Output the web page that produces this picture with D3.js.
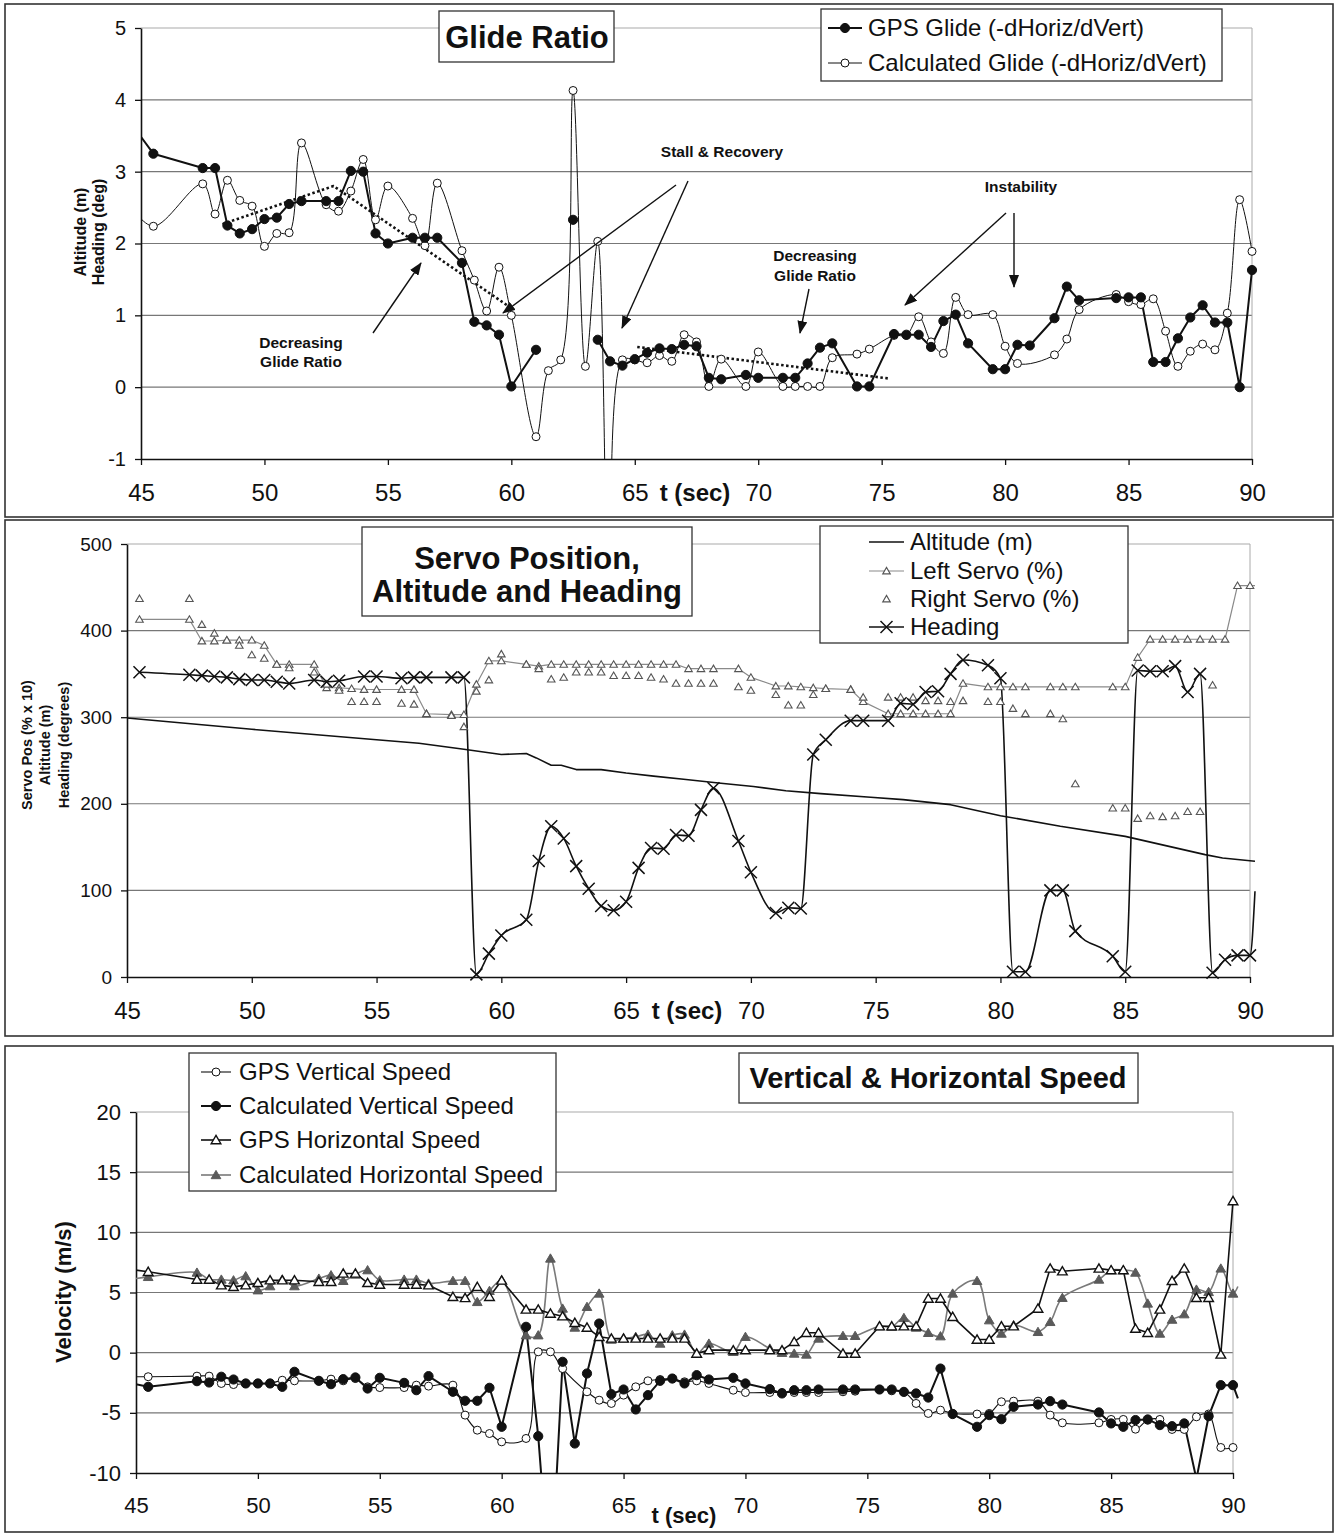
<!DOCTYPE html>
<html>
<head>
<meta charset="utf-8">
<script src="https://cdn.jsdelivr.net/npm/d3@7"></script>
<style>
  body { margin: 0; background: #fff; }
  svg { display: block; font-family: "Liberation Sans", Arial, sans-serif; }
</style>
</head>
<body>
<div id="chart"></div>
<script>
// ---- shared x ticks ----
const xTicks = [45, 50, 55, 60, 65, 70, 75, 80, 85, 90];

// ---- Glide ratio panel ----
const glideT = [44.5, 45.5, 47.5, 48, 48.5, 49, 49.5, 50, 50.5, 51, 51.5, 52.5, 53, 53.5, 54, 54.5, 55, 56, 56.5, 57,
  58, 58.5, 59, 59.5, 60, 61, 61.5, 62, 62.5, 63, 63.5, 64, 64.5, 65, 65.5, 66, 66.5, 67, 67.5, 68,
  68.5, 69.5, 70, 71, 71.5, 72, 72.5, 73, 74, 74.5, 75.5, 76, 76.5, 77, 77.5, 78, 78.5, 79.5, 80, 80.5,
  81, 82, 82.5, 83, 84.5, 85, 85.5, 86, 86.5, 87, 87.5, 88, 88.5, 89, 89.5, 90];
const gpsGlide = [3.72, 3.25, 3.05, 3.05, 2.25, 2.14, 2.2, 2.34, 2.36, 2.55, 2.59, 2.59, 2.59, 3.01, 3.0, 2.14, 2.0, 2.08, 2.08, 2.08,
  1.73, 0.91, 0.86, 0.73, 0.01, 0.52, null, null, 2.33, null, 0.66, 0.36, 0.30, 0.39, 0.48, 0.54, 0.53, 0.59, 0.57, 0.13,
  0.11, 0.17, 0.13, 0.13, 0.13, 0.33, 0.55, 0.61, 0.01, 0.01, 0.74, 0.73, 0.73, 0.56, 0.92, 1.01, 0.61, 0.25, 0.25, 0.59,
  0.58, 0.96, 1.40, 1.21, 1.24, 1.25, 1.25, 0.35, 0.35, 0.68, 0.97, 1.14, 0.90, 0.90, 0.0, 1.63];
const calcGlide = [2.55, 2.24, 2.83, 2.41, 2.88, 2.6, 2.52, 1.96, 2.14, 2.15, 3.4, 2.54, 2.45, 2.73, 3.17, 2.33, 2.8, 2.35, 1.97, 2.84,
  1.9, 1.49, 1.06, 1.67, 1.0, -0.69, 0.23, 0.38, 4.13, 0.29, 2.03, -4, 0.38, 0.38, 0.34, 0.44, 0.36, 0.73, 0.63, 0.01,
  0.39, 0.01, 0.49, 0.01, 0.01, 0.01, 0.01, 0.41, 0.46, 0.53, 0.72, 0.72, 0.98, 0.63, 0.47, 1.25, 1.01, 1.01, 0.57, 0.33,
  null, 0.45, 0.67, 1.08, 1.29, 1.19, 1.15, 1.23, 0.78, 0.29, 0.5, 0.6, 0.52, 1.03, 2.61, 1.89];
const glideTicks = [-1, 0, 1, 2, 3, 4, 5];
const trend1T = [48.3, 52.8, 60];
const trend1V = [2.27, 2.8, 1.1];
const trend2T = [65.1, 75.3];
const trend2V = [0.56, 0.12];

// ---- Servo / altitude / heading panel ----
const servoT = [45.5, 47.5, 48, 48.5, 49, 49.5, 50, 50.5, 51, 51.5, 52.5, 53, 53.5, 54, 54.5, 55, 56, 56.5, 57,
  58, 58.5, 59, 59.5, 60, 61, 61.5, 62, 62.5, 63, 63.5, 64, 64.5, 65, 65.5, 66, 66.5, 67, 67.5, 68,
  68.5, 69.5, 70, 71, 71.5, 72, 72.5, 73, 74, 74.5, 75.5, 76, 76.5, 77, 77.5, 78, 78.5, 79.5, 80, 80.5,
  81, 82, 82.5, 83, 84.5, 85, 85.5, 86, 86.5, 87, 87.5, 88, 88.5, 89, 89.5, 90, 90.2];
const heading = [352, 349, 348, 347, 346, 344, 343, 343, 341, 339, 343, 341, 342, null, 347, 347, 345, 346, 346,
  346, 346, 3, 27, 48, 66, 134, 174, 160, 128, 102, 82, 77, 87, 126, 149, 148, 164, 163, 193,
  218, 157, 121, 74, 80, 79, 257, 274, 296, 296, 296, 316, 315, 329, 330, 350, 366, 360, 345, 6,
  6, 100, 100, 53, 24, 6, 354, 353, 353, 359, 329, 350, 5, 20, 25, 25, 99];
const leftServo = [413, 413, 388, 388, 389, 389, 389, 383, 361, 361, 361, 334, 334, 333, 332, 332, 332, 332, 304,
  303, 303, 338, 365, 365, 361, 359, 361, 361, 361, 361, 361, 361, 361, 361, 361, 361, 361, 356, 356,
  356, 356, 346, 336, 336, 335, 334, 333, 332, 318, 304, 304, 304, 304, 304, 304, 339, 335, 335, 335,
  335, 335, 335, 335, 335, 335, 369, 390, 390, 390, 390, 390, 390, 390, 452, 452, 452];
const rightServo = [437, 437, 407, 397, 389, 383, 372, 368, 361, 357, 352, 338, 331, 318, 318, 318, 316, 315, 304,
  302, 289, 330, 343, 373, 361, 356, 344, 346, 352, 352, 352, 348, 348, 348, 346, 344, 339, 339, 339,
  339, 335, 331, 326, 314, 314, 326, 333, 332, 323, 323, 323, 323, 319, 319, 318, 319, 318, 318, 310,
  304, 304, 298, 223, 195, 195, 183, 186, 185, 186, 191, 191, 337, null, null, null, null];
const altT = [45, 50, 55, 56.7, 58.5, 60, 61, 61.4, 62, 62.4, 63, 64, 65, 66.1, 67.4, 68.7, 70.1, 71.4, 72.8, 74.8,
  76.1, 78, 80, 82.4, 85, 88.2, 88.9, 90.2];
const altitude = [299, 286, 274, 270, 263, 257, 258, 253, 244.5, 244.5, 239.5, 239.5, 235.5, 232, 228, 224, 220, 215, 211.7, 207.5,
  204.8, 199, 186.3, 174, 162.4, 141.3, 137.4, 133.6];
const servoTicks = [0, 100, 200, 300, 400, 500];

// ---- Vertical & horizontal speed panel ----
const speedT = glideT.concat([90.2]);
const gpsVert = [-2.0, -2.0, -1.95, -1.95, -2.56, -2.65, -2.56, -2.56, -2.56, -2.29, -2.34, -2.34, -2.2, -2.34, -2.15, -2.84, -2.9, -2.9, -2.7, -2.78,
  -2.7, -5.19, -6.44, -6.72, -7.41, -7.13, 0.07, 0.07, -1.32, null, -3.25, -3.95, -4.22, -3.53, -2.84, -2.34, -2.23, -2.15, -2.42, -2.34,
  -2.56, -3.12, -3.31, -3.31, -3.31, -3.31, -3.31, -3.31, -3.25, -3.2, -3.06, -3.17, -3.26, -4.22, -5.05, -4.78, -5.05, -5.1, -5.05, -4.08,
  -4.03, -4.03, -5.19, -5.83, -5.83, -5.55, -5.55, -6.36, -5.6, -5.55, -6.38, -6.38, -5.33, -5.1, -7.88, -7.88, null];
const calcVert = [-2.4, -2.84, -2.37, -2.48, -2.0, -2.23, -2.56, -2.56, -2.56, -2.84, -1.59, -2.34, -2.62, -2.2, -2.06, -2.98, -2.09, -2.51, -3.12, -1.95,
  -3.25, -4.0, -4.0, -2.92, -6.16, 2.15, -6.94, -20, -0.76, -7.55, -1.73, 2.42, -3.45, -3.06, -4.72, -3.53, -2.34, -2.15, -2.56, -1.87,
  -2.23, -2.09, -2.56, -3.03, -3.39, -3.12, -3.12, -3.06, -3.06, -3.06, -3.06, -3.06, -3.26, -3.39, -3.73, -1.32, -5.1, -6.16, -5.19, -5.53,
  -4.5, -4.31, -4.03, -4.31, -4.97, -5.88, -6.16, -5.6, -5.55, -6.02, -6.11, -5.88, -10.5, -5.28, -2.7, -2.7, -3.8];
const gpsHoriz = [7.0, 6.72, 6.08, 6.08, 5.61, 5.47, 5.61, 5.8, 6.02, 6.02, 6.02, 5.89, 5.89, 6.58, 6.58, 5.8, 5.66, 5.66, 5.66, 5.61,
  4.64, 4.55, 5.47, 4.64, 6.0, 3.59, 3.59, 3.25, 3.03, 2.48, 2.09, 1.32, 1.18, 1.18, 1.18, 1.18, 1.18, 1.18, 1.18, -0.07,
  0.21, 0.21, 0.21, 0.21, 0.21, 0.9, 1.65, 1.65, -0.07, -0.07, 2.2, 2.2, 2.2, 2.2, 4.5, 4.5, 2.98, 1.09, 1.09, 2.2,
  2.2, 3.67, 7.0, 6.77, 7.0, 6.86, 6.86, 2.0, 1.65, 3.59, 5.97, 7.0, 4.56, 4.56, -0.15, 12.6, null];
const calcHoriz = [6.0, 6.3, 6.66, 6.08, 6.08, 6.02, 6.36, 5.19, 5.53, 6.08, 5.53, 6.16, 6.44, 5.97, 6.5, 6.86, 6.02, 6.08, 6.08, 5.75,
  5.97, 5.97, 4.22, 5.14, 6.02, 1.45, 1.45, 7.83, 3.67, 2.09, 3.81, 4.92, 1.09, 1.18, 1.32, 1.51, 0.76, 1.45, 1.51, -0.07,
  0.76, 0.07, 1.32, 0.35, -0.01, -0.07, -0.15, 1.18, 1.4, 1.4, 2.2, 2.15, 2.89, 2.09, 1.65, 1.37, 4.92, 5.97, 2.7, 1.59,
  2.29, 1.73, 2.56, 4.56, 6.08, 6.86, 6.86, 6.66, 4.09, 1.59, 2.75, 3.2, 5.25, 5.05, 7.0, 4.92, 5.5];
const speedTicks = [-10, -5, 0, 5, 10, 15, 20];

// ---------------------------------------------------------------
const W = 1335, H = 1534;
const ink = "#111";

const svg = d3.select("#chart").append("svg")
  .attr("width", W)
  .attr("height", H);
svg.append("rect").attr("width", W).attr("height", H).attr("fill", "#fff");

const defs = svg.append("defs");
defs.append("marker")
  .attr("id", "arrow")
  .attr("viewBox", "0 0 13 10")
  .attr("refX", 12).attr("refY", 5)
  .attr("markerWidth", 13).attr("markerHeight", 10)
  .attr("markerUnits", "userSpaceOnUse")
  .attr("orient", "auto")
  .append("path").attr("d", "M0,0L13,5L0,10Z").attr("fill", ink);

function markerPath(type, s) {
  if (type === "circle")
    return `M${s},0A${s},${s} 0 1,1 ${-s},0A${s},${s} 0 1,1 ${s},0Z`;
  if (type === "triangle")
    return `M0,${-s}L${s * 1.05},${s * 0.8}L${-s * 1.05},${s * 0.8}Z`;
  if (type === "x")
    return `M${-s},${-s}L${s},${s}M${-s},${s}L${s},${-s}`;
  return "";
}

function drawMarks(g, pts, s) {
  g.selectAll(null)
    .data(pts)
    .join("path")
    .attr("d", markerPath(s.marker, s.size))
    .attr("transform", d => `translate(${d[0]},${d[1]})`)
    .attr("fill", s.marker === "x" ? "none" : s.mFill)
    .attr("stroke", s.mStroke)
    .attr("stroke-width", s.mWidth || 1);
}

let clipId = 0;

function makePanel(p) {
  svg.append("rect")
    .attr("x", p.frame[0]).attr("y", p.frame[1])
    .attr("width", p.frame[2] - p.frame[0])
    .attr("height", p.frame[3] - p.frame[1])
    .attr("fill", "none").attr("stroke", "#333").attr("stroke-width", 1.6);

  const x = d3.scaleLinear().domain([45, 90]).range([p.left, p.right]);
  const y = d3.scaleLinear().domain([p.ticks[0], p.ticks[p.ticks.length - 1]]).range([p.bottom, p.top]);
  const g = svg.append("g");

  // gridlines + plot border
  g.selectAll(null)
    .data(p.ticks.slice(1))
    .join("line")
    .attr("x1", p.left).attr("x2", p.right)
    .attr("y1", d => y(d)).attr("y2", d => y(d))
    .attr("stroke", (d, i) => i === p.ticks.length - 2 ? "#aaa" : "#777")
    .attr("stroke-width", 1.1);
  g.append("line")
    .attr("x1", p.right).attr("x2", p.right)
    .attr("y1", p.top).attr("y2", p.bottom)
    .attr("stroke", "#aaa");

  // axes (plain hyphen minus like the original)
  const fmt = d => String(d);
  const xa = g.append("g")
    .attr("transform", `translate(0,${p.bottom})`)
    .call(d3.axisBottom(x).tickValues(xTicks).tickFormat(fmt).tickSize(6).tickSizeOuter(0));
  xa.attr("font-family", null).attr("font-size", null);
  xa.selectAll("text")
    .attr("font-size", p.xFont)
    .attr("y", p.xLabelOff).attr("dy", "0.35em")
    .attr("fill", ink);

  const ya = g.append("g")
    .attr("transform", `translate(${p.left},0)`)
    .call(d3.axisLeft(y).tickValues(p.ticks).tickFormat(fmt).tickSize(6).tickSizeOuter(0).tickPadding(9));
  ya.attr("font-family", null).attr("font-size", null);
  ya.selectAll("text").attr("font-size", p.yFont).attr("fill", ink);

  [xa, ya].forEach(a => {
    a.select(".domain").attr("stroke", ink).attr("stroke-width", 1.6);
    a.selectAll(".tick line").attr("stroke", ink).attr("stroke-width", 1.3);
  });

  const cid = "clip" + (clipId++);
  defs.append("clipPath").attr("id", cid)
    .append("rect")
    .attr("x", p.left).attr("y", p.top - 2)
    .attr("width", p.right - p.left + 7)
    .attr("height", p.bottom - p.top + 2);

  const plot = svg.append("g");
  const lines = plot.append("g").attr("clip-path", `url(#${cid})`);
  const marks = plot.append("g");
  const [lo, hi] = y.domain();

  p.series.forEach(s => {
    const pts = s.t.map((t, i) => ({ t: t, v: s.v[i] }));
    if (s.stroke) {
      const use = s.spanGaps ? pts.filter(d => d.v != null) : pts;
      const line = d3.line()
        .defined(d => d.v != null)
        .x(d => x(d.t))
        .y(d => y(d.v))
        .curve(s.curve || d3.curveLinear);
      lines.append("path")
        .datum(use)
        .attr("d", line)
        .attr("fill", "none")
        .attr("stroke", s.stroke)
        .attr("stroke-width", s.width)
        .attr("stroke-dasharray", s.dash || null)
        .attr("stroke-linejoin", "round");
    }
    if (s.marker) {
      const mp = pts
        .filter(d => d.v != null && d.t >= 45 && d.t <= 90 && d.v >= lo && d.v <= hi)
        .map(d => [x(d.t), y(d.v)]);
      drawMarks(marks, mp, s);
    }
  });

  // x-axis title
  svg.append("text")
    .attr("x", p.xTitle[0]).attr("y", p.xTitle[1]).attr("dy", "0.35em")
    .attr("text-anchor", "middle")
    .attr("font-weight", "bold").attr("font-size", p.xTitle[2])
    .attr("fill", ink)
    .text("t (sec)");

  // y-axis title lines (rotated)
  p.yTitle.lines.forEach((txt, i) => {
    svg.append("text")
      .attr("transform", `translate(${p.yTitle.xs[i]},${p.yTitle.cy}) rotate(-90)`)
      .attr("dy", "0.35em")
      .attr("text-anchor", "middle")
      .attr("font-weight", "bold").attr("font-size", p.yTitle.size)
      .attr("fill", ink)
      .text(txt);
  });

  return { x, y };
}

function box(x0, y0, x1, y1) {
  svg.append("rect")
    .attr("x", x0).attr("y", y0).attr("width", x1 - x0).attr("height", y1 - y0)
    .attr("fill", "#fff").attr("stroke", "#333").attr("stroke-width", 1.3);
}

function titleBox(b, lines, size) {
  box(b[0], b[1], b[2], b[3]);
  lines.forEach(l => {
    svg.append("text")
      .attr("x", l[1]).attr("y", l[2]).attr("dy", "0.35em")
      .attr("text-anchor", "middle")
      .attr("font-weight", "bold").attr("font-size", size)
      .attr("fill", ink)
      .text(l[0]);
  });
}

function legend(b, items, sx0, sx1, tx, size) {
  box(b[0], b[1], b[2], b[3]);
  const g = svg.append("g");
  items.forEach(it => {
    if (it.s.stroke) {
      g.append("line")
        .attr("x1", sx0).attr("x2", sx1).attr("y1", it.y).attr("y2", it.y)
        .attr("stroke", it.s.stroke).attr("stroke-width", it.s.width);
    }
    if (it.s.marker) drawMarks(g, [[(sx0 + sx1) / 2, it.y]], it.s);
    g.append("text")
      .attr("x", tx).attr("y", it.y).attr("dy", "0.35em")
      .attr("font-size", size).attr("fill", ink)
      .text(it.label);
  });
}

function note(lines, cx, y0, lh, size) {
  lines.forEach((l, i) => {
    svg.append("text")
      .attr("x", cx).attr("y", y0 + i * lh).attr("dy", "0.35em")
      .attr("text-anchor", "middle")
      .attr("font-weight", "bold").attr("font-size", size)
      .attr("fill", ink)
      .text(l);
  });
}

function arrow(x1, y1, x2, y2) {
  svg.append("line")
    .attr("x1", x1).attr("y1", y1).attr("x2", x2).attr("y2", y2)
    .attr("stroke", ink).attr("stroke-width", 1.4)
    .attr("marker-end", "url(#arrow)");
}

// ---- series styles ----
const smooth = d3.curveCatmullRom.alpha(0.5);
const sGpsGlide = { stroke: ink, width: 2, marker: "circle", size: 4.6, mFill: ink, mStroke: ink };
const sCalcGlide = { stroke: ink, width: 1, curve: smooth, spanGaps: true, marker: "circle", size: 4, mFill: "#fff", mStroke: ink };
const sTrend = { stroke: ink, width: 2.6, dash: "2.5,2.5" };
const sAlt = { stroke: ink, width: 1.6 };
const sLeft = { stroke: "#8a8a8a", width: 1.2, marker: "triangle", size: 3.6, mFill: "#fff", mStroke: "#555", mWidth: 1.1 };
const sRight = { marker: "triangle", size: 3.6, mFill: "#fff", mStroke: "#555", mWidth: 1.1 };
const sHead = { stroke: ink, width: 1.6, curve: d3.curveMonotoneX, spanGaps: true, marker: "x", size: 6, mStroke: ink, mWidth: 1.5 };
const sGpsV = { stroke: ink, width: 1.1, curve: smooth, spanGaps: true, marker: "circle", size: 4, mFill: "#fff", mStroke: ink };
const sCalcV = { stroke: ink, width: 2, marker: "circle", size: 4.6, mFill: ink, mStroke: ink };
const sGpsH = { stroke: ink, width: 1.6, marker: "triangle", size: 4.6, mFill: "#fff", mStroke: ink, mWidth: 1.4 };
const sCalcH = { stroke: "#7a7a7a", width: 1.6, curve: smooth, marker: "triangle", size: 4.6, mFill: "#5a5a5a", mStroke: "#5a5a5a" };

// ================= Panel 1: Glide Ratio =================
makePanel({
  frame: [5, 4, 1333, 517],
  left: 141, right: 1252, top: 28, bottom: 459,
  ticks: glideTicks, xFont: 24, yFont: 20, xLabelOff: 34,
  xTitle: [695, 493, 24],
  yTitle: { lines: ["Altitude (m)", "Heading (deg)"], xs: [80, 98], cy: 232, size: 16 },
  series: [
    Object.assign({ t: trend1T, v: trend1V }, sTrend),
    Object.assign({ t: trend2T, v: trend2V }, sTrend),
    Object.assign({ t: glideT, v: calcGlide }, sCalcGlide),
    Object.assign({ t: glideT, v: gpsGlide }, sGpsGlide)
  ]
});
titleBox([439, 11, 614, 62], [["Glide Ratio", 527, 37]], 31);
legend([821, 9, 1222, 81], [
  { label: "GPS Glide (-dHoriz/dVert)", y: 28, s: sGpsGlide },
  { label: "Calculated Glide (-dHoriz/dVert)", y: 63, s: sCalcGlide }
], 828, 862, 868, 24);
note(["Stall & Recovery"], 722, 152, 19, 15.5);
arrow(676, 185, 503, 313);
arrow(688, 181, 622, 328);
note(["Decreasing", "Glide Ratio"], 301, 343, 19, 15.5);
arrow(373, 333, 421, 263);
note(["Decreasing", "Glide Ratio"], 815, 256, 20, 15.5);
arrow(809, 289, 800, 333);
note(["Instability"], 1021, 187, 19, 15.5);
arrow(1006, 213, 905, 305);
arrow(1014, 213, 1014, 287);

// ================= Panel 2: Servo, altitude, heading =================
makePanel({
  frame: [5, 520, 1333, 1036],
  left: 127, right: 1250, top: 544, bottom: 977,
  ticks: servoTicks, xFont: 24, yFont: 19, xLabelOff: 34,
  xTitle: [687, 1011, 24],
  yTitle: { lines: ["Servo Pos (% x 10)", "Altitude (m)", "Heading (degrees)"], xs: [27, 45, 64], cy: 745, size: 14.5 },
  series: [
    Object.assign({ t: altT, v: altitude }, sAlt),
    Object.assign({ t: servoT, v: leftServo }, sLeft),
    Object.assign({ t: servoT, v: rightServo }, sRight),
    Object.assign({ t: servoT, v: heading }, sHead)
  ]
});
titleBox([362, 527, 692, 616], [["Servo Position,", 527, 558], ["Altitude and Heading", 527, 591]], 31);
legend([820, 526, 1128, 643], [
  { label: "Altitude (m)", y: 542, s: sAlt },
  { label: "Left Servo (%)", y: 571, s: sLeft },
  { label: "Right Servo (%)", y: 599, s: sRight },
  { label: "Heading", y: 627, s: sHead }
], 869, 904, 910, 24);

// ================= Panel 3: Vertical & horizontal speed =================
makePanel({
  frame: [5, 1046, 1333, 1532],
  left: 136, right: 1233, top: 1112, bottom: 1473,
  ticks: speedTicks, xFont: 22, yFont: 22, xLabelOff: 32,
  xTitle: [684, 1515, 22],
  yTitle: { lines: ["Velocity (m/s)"], xs: [63], cy: 1292, size: 22 },
  series: [
    Object.assign({ t: speedT, v: calcHoriz }, sCalcH),
    Object.assign({ t: speedT, v: gpsHoriz }, sGpsH),
    Object.assign({ t: speedT, v: gpsVert }, sGpsV),
    Object.assign({ t: speedT, v: calcVert }, sCalcV)
  ]
});
titleBox([739, 1053, 1138, 1103], [["Vertical & Horizontal Speed", 938, 1078]], 29);
legend([189, 1053, 556, 1191], [
  { label: "GPS Vertical Speed", y: 1072, s: sGpsV },
  { label: "Calculated Vertical Speed", y: 1106, s: sCalcV },
  { label: "GPS Horizontal Speed", y: 1140, s: sGpsH },
  { label: "Calculated Horizontal Speed", y: 1175, s: sCalcH }
], 201, 231, 239, 24);
</script>
</body>
</html>
